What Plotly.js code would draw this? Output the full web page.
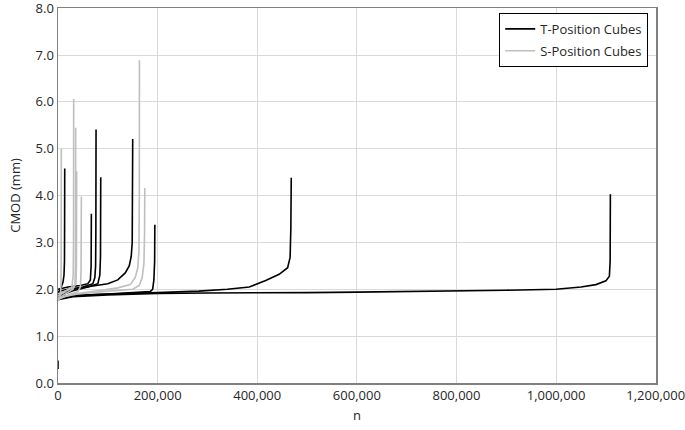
<!DOCTYPE html>
<html>
<head>
<meta charset="utf-8">
<script src="https://cdn.plot.ly/plotly-3.0.1.min.js"></script>
<style>
  html, body { margin: 0; padding: 0; background: #fff; }
  #chart { width: 685px; height: 430px; }
</style>
</head>
<body>
<div id="chart"></div>
<script>
/* CMOD vs. load cycles n — T- and S-position cubes */

// T-position cubes (black)
const t1N = [0, 3000, 7000, 10000, 12000, 13000, 13300, 13500];
const t1V = [1.88, 1.95, 2.05, 2.15, 2.3, 2.6, 3.5, 4.58];
const t2N = [0, 20000, 45000, 60000, 65000, 66500, 67000];
const t2V = [2.0, 2.05, 2.08, 2.12, 2.2, 2.5, 3.61];
const t3N = [0, 20000, 50000, 70000, 74000, 75500, 76000, 76400];
const t3V = [1.95, 2.0, 2.05, 2.12, 2.25, 2.5, 3.2, 5.41];
const t4N = [0, 30000, 60000, 80000, 84000, 85300, 85800];
const t4V = [1.85, 1.97, 2.05, 2.12, 2.3, 2.7, 4.39];
const t5N = [0, 30000, 70000, 100000, 120000, 135000, 143000, 147000, 149000, 149800, 150000];
const t5V = [1.9, 2.0, 2.07, 2.12, 2.2, 2.35, 2.5, 2.7, 3.0, 4.0, 5.21];
const t6N = [0, 40000, 100000, 150000, 185000, 190000, 192500, 194000, 194400];
const t6V = [1.8, 1.87, 1.9, 1.93, 1.95, 2.0, 2.2, 2.6, 3.38];
const t7N = [0, 50000, 100000, 200000, 283000, 340000, 384000, 417000, 444000, 461000, 466000, 467500, 468300];
const t7V = [1.85, 1.88, 1.9, 1.93, 1.96, 2.0, 2.05, 2.19, 2.32, 2.46, 2.68, 3.3, 4.38];
const t8N = [0, 0, null, 0, 30000, 100000, 200000, 300000, 400000, 500000, 600000, 700000, 796000,
             900000, 1000000, 1050000, 1080000, 1100000, 1107000, 1108500, 1109000];
const t8V = [0.3, 0.48, null, 1.78, 1.84, 1.88, 1.91, 1.92, 1.92, 1.93, 1.94, 1.95, 1.97,
             1.98, 2.0, 2.05, 2.1, 2.18, 2.28, 2.6, 4.03];

// S-position cubes (grey)
const s1N = [0, 3000, 5000, 6000, 6400, 6600];
const s1V = [1.75, 1.8, 1.9, 2.1, 2.8, 5.0];
const s2N = [0, 10000, 20000, 28000, 30500, 31200, 31500];
const s2V = [1.85, 1.92, 1.98, 2.05, 2.3, 3.0, 6.06];
const s3N = [0, 15000, 30000, 34000, 35000, 35500];
const s3V = [1.8, 1.9, 2.0, 2.1, 2.5, 5.45];
const s4N = [0, 15000, 30000, 36000, 37000, 37500];
const s4V = [1.9, 1.97, 2.03, 2.12, 2.5, 4.52];
const s5N = [0, 20000, 40000, 45000, 46300, 46900];
const s5V = [1.78, 1.88, 1.95, 2.05, 2.4, 3.98];
const s6N = [0, 30000, 80000, 120000, 145000, 155000, 160000, 162500, 163300, 163500];
const s6V = [1.8, 1.9, 1.97, 2.03, 2.1, 2.25, 2.45, 2.8, 4.0, 6.89];
const s7N = [0, 40000, 100000, 150000, 163000, 169000, 172500, 173800, 174200];
const s7V = [1.82, 1.9, 1.96, 2.0, 2.08, 2.25, 2.55, 3.2, 4.16];

const xTicks = [0, 200000, 400000, 600000, 800000, 1000000, 1200000];
const yTicks = [0, 1, 2, 3, 4, 5, 6, 7, 8];

const tSeries = [[t1N, t1V], [t2N, t2V], [t3N, t3V], [t4N, t4V],
                 [t5N, t5V], [t6N, t6V], [t7N, t7V], [t8N, t8V]];
const sSeries = [[s1N, s1V], [s2N, s2V], [s3N, s3V], [s4N, s4V],
                 [s5N, s5V], [s6N, s6V], [s7N, s7V]];

const FONT = 'Open Sans, Liberation Sans, sans-serif';
const traces = [];

tSeries.forEach(function (s, i) {
  traces.push({
    x: s[0], y: s[1], type: 'scatter', mode: 'lines',
    line: { color: '#000000', width: 1.6 },
    name: 'T-Position Cubes', legendgroup: 'T', showlegend: i === 0,
    hoverinfo: 'skip'
  });
});
sSeries.forEach(function (s, i) {
  traces.push({
    x: s[0], y: s[1], type: 'scatter', mode: 'lines',
    line: { color: '#bfbfbf', width: 1.6 },
    name: 'S-Position Cubes', legendgroup: 'S', showlegend: i === 0,
    hoverinfo: 'skip'
  });
});

const axisCommon = {
  showgrid: true, gridcolor: '#d9d9d9', gridwidth: 1,
  showline: true, linecolor: '#808080', linewidth: 1.5, mirror: true,
  zeroline: false, ticks: '', tickmode: 'array', ticklabeloverflow: 'allow',
  tickfont: { family: FONT, size: 13, color: '#262626' }
};

const layout = {
  width: 685, height: 430,
  paper_bgcolor: '#ffffff', plot_bgcolor: '#ffffff',
  margin: { t: 8, r: 29, b: 47, l: 58 },
  font: { family: FONT, color: '#262626' },
  xaxis: Object.assign({}, axisCommon, {
    range: [0, 1200600], tickvals: xTicks, tickformat: ',d',
    title: { text: 'n', font: { family: FONT, size: 13, color: '#262626' }, standoff: 8 }
  }),
  yaxis: Object.assign({}, axisCommon, {
    range: [0, 8.004], tickvals: yTicks, tickformat: '.1f',
    title: { text: 'CMOD (mm)', font: { family: FONT, size: 13, color: '#262626' }, standoff: 12 }
  }),
  showlegend: true,
  legend: {
    x: 0.987, y: 0.987, xanchor: 'right', yanchor: 'top',
    bgcolor: '#ffffff', bordercolor: '#000000', borderwidth: 1,
    font: { family: FONT, size: 13, color: '#262626' },
    tracegroupgap: 2, itemwidth: 30
  }
};

Plotly.newPlot('chart', traces, layout, { displayModeBar: false, staticPlot: true });
</script>
</body>
</html>
